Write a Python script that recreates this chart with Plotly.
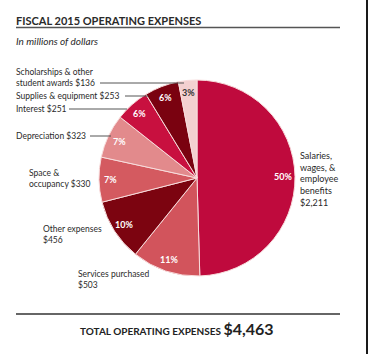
import numpy as np
import plotly.graph_objects as go

# ---- data ----
categories = ["Salaries, wages, & employee benefits", "Services purchased", "Other expenses",
              "Space & occupancy", "Depreciation", "Interest", "Supplies & equipment",
              "Scholarships & other student awards"]
values = [2211, 503, 456, 330, 323, 251, 253, 136]
slice_colors = ["#BF0A3D", "#D2545C", "#7C0410", "#D45A60", "#E28A8C", "#C8103F", "#7A0210", "#F3D0D0"]
pct_colors = ["white", "white", "white", "white", "white", "white", "white", "#333333"]
total_label = "$4,463"

# label texts (outside labels)
out_labels = [
    "Salaries,<br>wages, &<br>employee<br>benefits<br>$2,211",
    "Services purchased<br>$503",
    "Other expenses<br>$456",
    "Space &<br>occupancy $330",
    "Depreciation $323",
    "Interest $251",
    "Supplies & equipment $253",
    "Scholarships & other<br>student awards $136",
]

W, H = 368, 354
CX, CY, R = 197, 178, 98
FONT = "Lato"
TXT = "#2a2a2a"

def px(x):
    return x / W

def py(y):
    return 1 - y / H

fig = go.Figure()
fig.add_trace(go.Pie(
    labels=categories, values=values, sort=False, direction="clockwise", rotation=0,
    marker=dict(colors=slice_colors, line=dict(color="#F8DCDC", width=1)),
    textinfo="none", hoverinfo="label+value+percent",
    domain=dict(x=[px(CX - R), px(CX + R)], y=[py(CY + R), py(CY - R)]),
    showlegend=False,
))

annotations = []
shapes = []

# percentage labels at mid angle of each slice (computed from the data)
vals = np.array(values, dtype=float)
fr = vals / vals.sum()
cum = np.cumsum(fr) - fr / 2
for f, mid, col in zip(fr, cum, pct_colors):
    a = 2 * np.pi * mid
    r = 0.88 * R
    x = CX + r * np.sin(a)
    y = CY - r * np.cos(a)
    annotations.append(dict(x=px(x), y=py(y), xref="paper", yref="paper", showarrow=False,
                            text=f"{round(f*100):d}%", xanchor="center", yanchor="middle",
                            font=dict(family=FONT, size=9, color=col, weight="bold")))

# outside labels: (x_left, y_center, size) in pixels
label_pos = [(298, 179, 9), (76, 279, 8.5), (41, 234, 8.5), (27, 178, 8.5), (14, 136, 8.5),
             (14, 109, 8.5), (14, 96, 8.5), (14, 77.5, 8.5)]
for t, (x, y, s) in zip(out_labels, label_pos):
    annotations.append(dict(x=px(x), y=py(y), xref="paper", yref="paper", showarrow=False,
                            text=t, xanchor="left", yanchor="middle", align="left",
                            font=dict(family=FONT, size=s, color=TXT)))

# leader lines
leaders = [(100, 184, 83), (125, 148, 96), (69, 127, 109), (90, 111, 136)]
for x0, x1, y in leaders:
    shapes.append(dict(type="line", xref="paper", yref="paper", x0=px(x0), x1=px(x1), y0=py(y), y1=py(y),
                       line=dict(color="#555555", width=1)))

# title + rules
annotations.append(dict(x=px(14), y=py(20), xref="paper", yref="paper", showarrow=False,
                        text="FISCAL 2015 OPERATING EXPENSES", xanchor="left", yanchor="middle",
                        font=dict(family=FONT, size=11, color="#2a2a2a", weight="bold")))
shapes.append(dict(type="line", xref="paper", yref="paper", x0=px(16), x1=px(340), y0=py(27.5), y1=py(27.5),
                   line=dict(color="#555555", width=1.5)))
annotations.append(dict(x=px(14), y=py(41), xref="paper", yref="paper", showarrow=False,
                        text="<i>In millions of dollars</i>", xanchor="left", yanchor="middle",
                        font=dict(family=FONT, size=10, color=TXT)))
shapes.append(dict(type="line", xref="paper", yref="paper", x0=px(16), x1=px(340), y0=py(314), y1=py(314),
                   line=dict(color="#333333", width=1.5)))
annotations.append(dict(x=px(177), y=py(328), xref="paper", yref="paper", showarrow=False,
                        text="TOTAL OPERATING EXPENSES <span style='font-size:16px'>" + total_label + "</span>",
                        xanchor="center", yanchor="middle",
                        font=dict(family=FONT, size=10, color="#222222", weight="bold")))
# right border of the scanned page
shapes.append(dict(type="rect", xref="paper", yref="paper", x0=px(366), x1=1, y0=0, y1=1,
                   line=dict(width=0), fillcolor="#1a1a1a"))

fig.update_layout(width=W, height=H, margin=dict(l=0, r=0, t=0, b=0),
                  paper_bgcolor="white", plot_bgcolor="white",
                  annotations=annotations, shapes=shapes)
fig.write_html("out.html")
